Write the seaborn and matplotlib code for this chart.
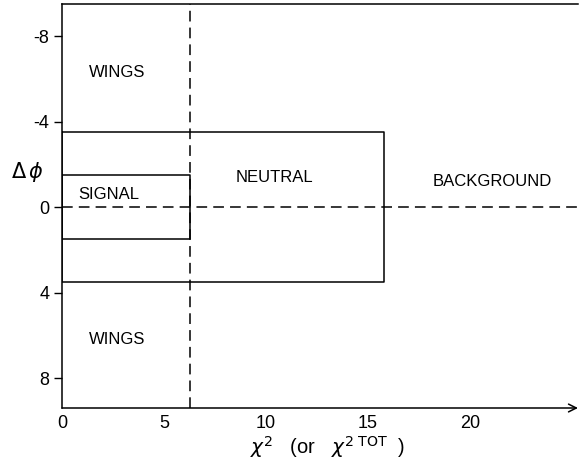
import matplotlib
matplotlib.use("Agg")
import matplotlib.pyplot as plt
import seaborn as sns
import pandas as pd

# Cut regions in the (chi^2, delta-phi) plane
signal_chi2_max = 6.3
signal_dphi = 1.5
neutral_chi2_max = 15.8
neutral_dphi = 3.5
x_limits = (0, 25.3)
y_limits = (9.4, -9.5)

x_ticks = [0, 5, 10, 15, 20]
y_ticks = [-8, -4, 0, 4, 8]
y_tick_labels = ["-8", "-4", "0", "4", "8"]

region_names = ["WINGS", "WINGS", "SIGNAL", "NEUTRAL", "BACKGROUND"]
region_x = [2.7, 2.7, 2.3, 10.4, 21.1]
region_y = [-6.3, 6.2, -0.6, -1.4, -1.2]

sns.set_style("white")
plt.rcParams["font.family"] = ["Liberation Sans", "DejaVu Sans"]
plt.rcParams["text.color"] = "black"
plt.rcParams["axes.labelcolor"] = "black"
plt.rcParams["xtick.color"] = "black"
plt.rcParams["ytick.color"] = "black"

fig = plt.figure(figsize=(5.81, 4.66), dpi=100)
ax = fig.add_axes([62 / 581, 1 - 408 / 466, (578 - 62) / 581, (408 - 4) / 466])


def box(x0, x1, y0, y1):
    return pd.DataFrame({"x": [x0, x1, x1, x0, x0], "y": [y0, y0, y1, y1, y0]})


for df in (box(0, signal_chi2_max, -signal_dphi, signal_dphi),
           box(0, neutral_chi2_max, -neutral_dphi, neutral_dphi)):
    sns.lineplot(data=df, x="x", y="y", sort=False, estimator=None,
                 color="black", linewidth=1.1, ax=ax)

# Dashed boundaries
sns.lineplot(x=[signal_chi2_max, signal_chi2_max], y=list(y_limits), sort=False,
             estimator=None, color="black", linewidth=1.1, ax=ax, linestyle=(0, (7, 4)))
sns.lineplot(x=[0, x_limits[1]], y=[0, 0], sort=False, estimator=None,
             color="black", linewidth=1.1, ax=ax, linestyle=(0, (7, 4)))

for name, x, y in zip(region_names, region_x, region_y):
    ax.text(x, y, name, ha="center", va="center", fontsize=12, color="black")

ax.set_xlim(*x_limits)
ax.set_ylim(*y_limits)
ax.set_xticks(x_ticks)
ax.set_yticks(y_ticks)
ax.set_yticklabels(y_tick_labels)
ax.tick_params(axis="x", length=0, pad=5, labelsize=13)
ax.tick_params(axis="y", length=6, width=1, direction="out", pad=3, labelsize=13, left=True)

for side in ("left", "bottom", "top"):
    ax.spines[side].set_color("black")
    ax.spines[side].set_linewidth(1.1)
ax.spines["right"].set_visible(False)
ax.spines["bottom"].set_visible(False)

# x axis drawn as an arrow
ax.annotate("", xy=(1.0, 0), xycoords="axes fraction", xytext=(0, 0),
            arrowprops=dict(arrowstyle="->", color="black", lw=1.1,
                            shrinkA=0, shrinkB=0, mutation_scale=14))

ax.set_xlabel(r"$\chi^2$   (or   $\chi^{2\ \mathrm{TOT}}$  )", fontsize=14.5, labelpad=0)
ax.xaxis.set_label_coords(0.515, -0.065)
ax.set_ylabel(r"$\Delta\,\phi$", fontsize=15, rotation=0, labelpad=12)
ax.yaxis.set_label_coords(-0.067, 0.555)

fig.savefig("out.png", dpi=100)
